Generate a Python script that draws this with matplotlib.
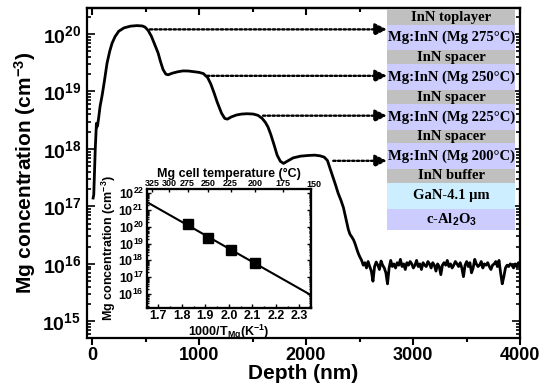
import numpy as np
import matplotlib.pyplot as plt
from matplotlib.patches import Rectangle
from matplotlib.ticker import LogLocator, MultipleLocator, NullFormatter, FixedLocator, FixedFormatter

plt.rcParams.update({
    "font.family": "Liberation Sans",
    "font.weight": "bold",
    "axes.labelweight": "bold",
    "mathtext.fontset": "custom",
    "mathtext.rm": "Liberation Sans:bold",
    "mathtext.it": "Liberation Sans:bold:italic",
    "mathtext.bf": "Liberation Sans:bold",
    "mathtext.default": "bf",
    "axes.linewidth": 1.6,
})

# SIMS depth profile: depth (nm), Mg concentration (cm^-3)
depth_profile = [10, 16, 30, 41, 45, 52, 62, 75, 94, 115, 140, 165, 187, 215, 250,
                 300, 360, 420, 470, 495, 525, 555, 585, 617, 640, 664, 690, 711,
                 750, 800, 850, 900, 960, 1000, 1040, 1080, 1110, 1140, 1170, 1210,
                 1240, 1265, 1300, 1350, 1400, 1450, 1506, 1550, 1590, 1620, 1645,
                 1670, 1700, 1730, 1760, 1790, 1830, 1880, 1950, 2020, 2080, 2130,
                 2170, 2200, 2224, 2250, 2275, 2300, 2325, 2350, 2370, 2395, 2410,
                 2430, 2445, 2460, 2475, 2490, 2505, 2520]
conc_profile = [1.4e17, 1.6e17, 1.0e18, 2.8e18, 2.4e18, 2.6e18, 3.5e18, 5.5e18, 8.5e18,
                1.5e19, 3.1e19, 5.0e19, 6.9e19, 9.0e19, 1.12e20, 1.28e20, 1.37e20,
                1.40e20, 1.38e20, 1.32e20, 1.15e20, 9.1e19, 6.6e19, 4.7e19, 3.3e19,
                2.4e19, 2.0e19, 1.95e19, 2.08e19, 2.2e19, 2.28e19, 2.27e19, 2.2e19,
                2.15e19, 2.05e19, 1.75e19, 1.35e19, 9.5e18, 6.5e18, 4.2e18, 3.4e18,
                3.3e18, 3.6e18, 3.9e18, 4.05e18, 4.1e18, 4.05e18, 3.85e18, 3.4e18,
                2.9e18, 2.4e18, 1.8e18, 1.2e18, 7.8e17, 6.1e17, 5.6e17, 6.2e17,
                7.0e17, 7.5e17, 7.7e17, 7.8e17, 7.6e17, 7.2e17, 6.3e17, 4.6e17,
                3.3e17, 2.4e17, 1.7e17, 1.3e17, 9.5e16, 6.5e16, 4.0e16, 3.3e16,
                2.9e16, 2.6e16, 2.2e16, 1.8e16, 1.5e16, 1.3e16, 1.15e16]

# background level beyond the doped stack (units of 1e16 cm^-3)
bg_level = [0.95, 1.05, 0.85, 1.10, 0.90, 0.75, 0.50, 0.90, 1.08, 0.95,
            0.80, 1.12, 0.95, 0.85, 0.70, 0.45, 0.85, 1.15, 0.90, 1.00,
            0.85, 1.05, 0.95, 1.20, 0.90, 1.00, 0.80, 1.05, 0.95, 1.10,
            1.00, 0.85, 0.95, 1.15, 0.90, 1.00, 0.80, 1.05, 0.95, 0.90,
            1.10, 1.00, 0.85, 1.05, 0.95, 0.75, 1.00, 0.90, 0.65, 0.95,
            1.05, 0.95, 1.15, 0.90, 1.00, 0.85, 0.95, 1.10, 1.00, 0.90,
            1.05, 0.85, 0.60, 0.95, 1.10, 0.90, 1.05, 0.70, 0.85, 1.20,
            1.00, 0.90, 0.95, 1.10, 0.85, 1.00, 0.95, 1.05, 0.90, 0.80,
            0.95, 1.00, 1.10, 0.90, 1.15, 0.70, 0.45, 0.60, 0.85, 0.95,
            0.90, 1.00, 0.95, 0.85, 1.00, 0.90, 1.05, 0.95]
bg_depth = np.linspace(2535, 4000, len(bg_level))

# inset: cell temperature vs plateau concentration
cell_temp = [275, 250, 225, 200]
plateau_conc = [1.4e20, 2.3e19, 4.0e18, 7.0e17]
top_temps = [325, 300, 275, 250, 225, 200, 175, 150]

# layer stack
layer_names = ["InN toplayer", "Mg:InN (Mg 275°C)", "InN spacer", "Mg:InN (Mg 250°C)",
               "InN spacer", "Mg:InN (Mg 225°C)", "InN spacer", "Mg:InN (Mg 200°C)",
               "InN buffer", "GaN-4.1 µm", r"c-Al$_\mathbf{2}$O$_\mathbf{3}$"]
layer_heights = [15.7, 25, 14, 26, 14, 26, 13.3, 26, 13.4, 26.3, 21]
gray, lav, blue = "#c0c0c0", "#ccccff", "#cceeff"
layer_colors = [gray, lav, gray, lav, gray, lav, gray, lav, gray, blue, lav]

W, H = 555, 390
fig = plt.figure(figsize=(W / 100, H / 100), dpi=100)
ax = fig.add_axes([86.7 / W, 1 - 337.7 / H, (520 - 86.7) / W, (337.7 - 8.3) / H])

depth = np.concatenate([depth_profile, bg_depth])
conc = np.concatenate([conc_profile, np.array(bg_level) * 1e16])
ax.plot(depth, conc, color="k", lw=2.0)

ax.set_yscale("log")
ax.set_xlim(-50, 4000)
ax.set_ylim(5.2e14, 2.8e20)
ax.xaxis.set_major_locator(MultipleLocator(1000))
ax.xaxis.set_minor_locator(MultipleLocator(500))
ax.yaxis.set_major_locator(LogLocator(base=10, numticks=20))
ax.yaxis.set_minor_locator(LogLocator(base=10, subs=np.arange(2, 10), numticks=20))
ax.yaxis.set_minor_formatter(NullFormatter())
ax.tick_params(axis="x", which="both", direction="out", labelsize=13, width=1.5)
ax.tick_params(axis="x", which="major", length=5, pad=2)
ax.tick_params(axis="x", which="minor", length=3)
ax.tick_params(axis="y", which="both", direction="in", right=True, labelsize=14, width=1.2)
ax.tick_params(axis="y", which="major", length=6, pad=4)
ax.tick_params(axis="y", which="minor", length=3)
top = ax.secondary_xaxis("top")
top.xaxis.set_major_locator(MultipleLocator(1000))
top.xaxis.set_minor_locator(MultipleLocator(500))
top.tick_params(which="both", direction="in", labeltop=False, width=1.5)
top.tick_params(which="major", length=5)
top.tick_params(which="minor", length=3)
ax.set_xlabel("Depth (nm)", fontsize=15, labelpad=0)
ax.set_ylabel("Mg concentration (cm$^{-3}$)", fontsize=15, labelpad=3)

# arrows from plateaus to layers
arrow_y = [0.936, 0.795, 0.674, 0.537]
arrow_x0 = [0.146, 0.278, 0.407, 0.569]
for x0, y in zip(arrow_x0, arrow_y):
    ax.annotate("", xy=(0.693, y), xytext=(x0, y), xycoords="axes fraction",
                arrowprops=dict(arrowstyle="-|>,head_length=0.6,head_width=0.3",
                                linestyle=(0, (1, 1)), lw=1.7, color="k",
                                mutation_scale=12, shrinkA=0, shrinkB=0))

# layer stack
ax_s = fig.add_axes([387.3 / W, 1 - 230 / H, (515 - 387.3) / W, (230 - 9.3) / H])
ax_s.set_xlim(0, 1)
ax_s.set_ylim(sum(layer_heights), 0)
ax_s.axis("off")
y0 = 0
for name, h, c in zip(layer_names, layer_heights, layer_colors):
    ax_s.add_patch(Rectangle((0, y0), 1, h, facecolor=c, edgecolor="none"))
    ax_s.text(0.5, y0 + h / 2, name, ha="center", va="center", fontsize=10.5,
              family="Liberation Serif", weight="bold")
    y0 += h

# inset
ax_in = fig.add_axes([146.7 / W, 1 - 307.7 / H, (311 - 146.7) / W, (307.7 - 189) / H])
inv_t = 1000 / (np.array(cell_temp) + 273.15)
fit = np.polyfit(inv_t, np.log10(plateau_conc), 1)
x_line = np.array([1.65, 2.35])
ax_in.plot(x_line, 10 ** np.polyval(fit, x_line), color="k", lw=1.5)
ax_in.plot(inv_t, plateau_conc, "s", color="k", ms=6.5)
ax_in.set_yscale("log")
ax_in.set_xlim(1.65, 2.35)
ax_in.set_ylim(1.5e15, 1.8e22)
ax_in.xaxis.set_major_locator(MultipleLocator(0.1))
ax_in.xaxis.set_minor_locator(MultipleLocator(0.05))
ax_in.yaxis.set_major_locator(LogLocator(base=10, numticks=20))
ax_in.yaxis.set_minor_locator(LogLocator(base=10, subs=np.arange(2, 10), numticks=20))
ax_in.yaxis.set_minor_formatter(NullFormatter())
ax_in.tick_params(which="both", direction="in", right=True, labelsize=9, pad=2, width=1)
ax_in.tick_params(which="major", length=3)
ax_in.tick_params(which="minor", length=1.5)
for s in ax_in.spines.values():
    s.set_linewidth(1.5)
ax_in.set_xlabel("1000/T$_{Mg}$(K$^{-1}$)", fontsize=9, labelpad=0)
ax_in.set_ylabel("Mg concentration (cm$^{-3}$)", fontsize=9, labelpad=0)

ax_t = ax_in.twiny()
ax_t.set_xlim(ax_in.get_xlim())
top_pos = 1000 / (np.array(top_temps) + 273.15)
ax_t.xaxis.set_major_locator(FixedLocator(top_pos[:-1]))
ax_t.xaxis.set_major_formatter(FixedFormatter([str(t) for t in top_temps[:-1]]))
ax_t.tick_params(direction="in", labelsize=6.5, pad=1, length=2.5, width=1)
ax_t.text(top_pos[-1], 1.0, str(top_temps[-1]), transform=ax_t.get_xaxis_transform(),
          ha="center", va="bottom", fontsize=6.5, clip_on=False)
ax_t.set_xlabel("Mg cell temperature (°C)", fontsize=9, labelpad=1.5)

fig.savefig("out.png", dpi=100)
